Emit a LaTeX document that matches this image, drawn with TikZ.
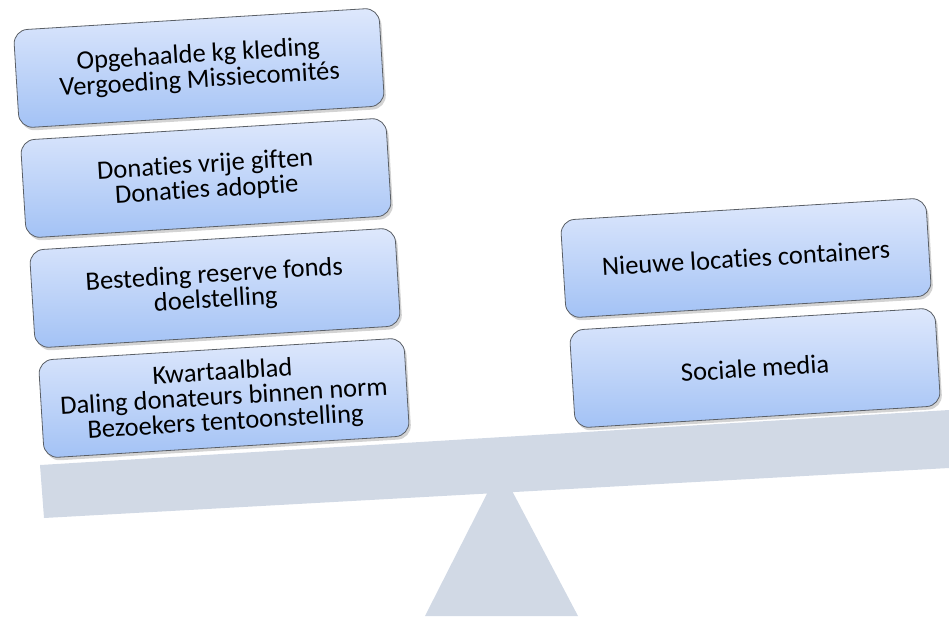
\documentclass[tikz,border=0pt]{standalone}
\usepackage{fontspec}
\setmainfont{Carlito}[Ligatures=NoCommon]
\usetikzlibrary{shadows}
\definecolor{beamcol}{HTML}{D1D9E5}
\definecolor{boxtop}{HTML}{DEE8FC}
\definecolor{boxbot}{HTML}{A3C2F5}
\definecolor{boxline}{HTML}{5A5F66}
\tikzset{
  wbox/.style={draw=boxline, line width=0.8pt, rounded corners=14pt,
    top color=boxtop, bottom color=boxbot, minimum width=366pt, minimum height=98pt,
    align=center, rotate=3.5, font=\fontsize{26.5}{25}\selectfont, inner sep=4pt,
    drop shadow={opacity=0.35, shadow xshift=2pt, shadow yshift=-3pt}},
  beam/.style={fill=beamcol}
}
\begin{document}
\begin{tikzpicture}[x=1pt,y=-1pt]
\useasboundingbox (0,0) rectangle (949,616);
\fill[beam] (40,465) -- (949,410) -- (949,468) -- (44,518) -- cycle;
\fill[beam] (500,468) -- (578,616) -- (425,616) -- cycle;
\node[wbox] (a1) at (199,68) {Opgehaalde kg kleding\\Vergoeding Missiecomités};
\node[wbox] (a2) at (206,178) {Donaties vrije giften\\Donaties adoptie};
\node[wbox] (a3) at (215,288) {Besteding reserve fonds\\doelstelling};
\node[wbox] (a4) at (224,398) {Kwartaalblad\\Daling donateurs binnen norm\\Bezoekers tentoonstelling};
\node[wbox] (b1) at (746,258) {Nieuwe locaties containers};
\node[wbox] (b2) at (755,368) {Sociale media};
\end{tikzpicture}
\end{document}
